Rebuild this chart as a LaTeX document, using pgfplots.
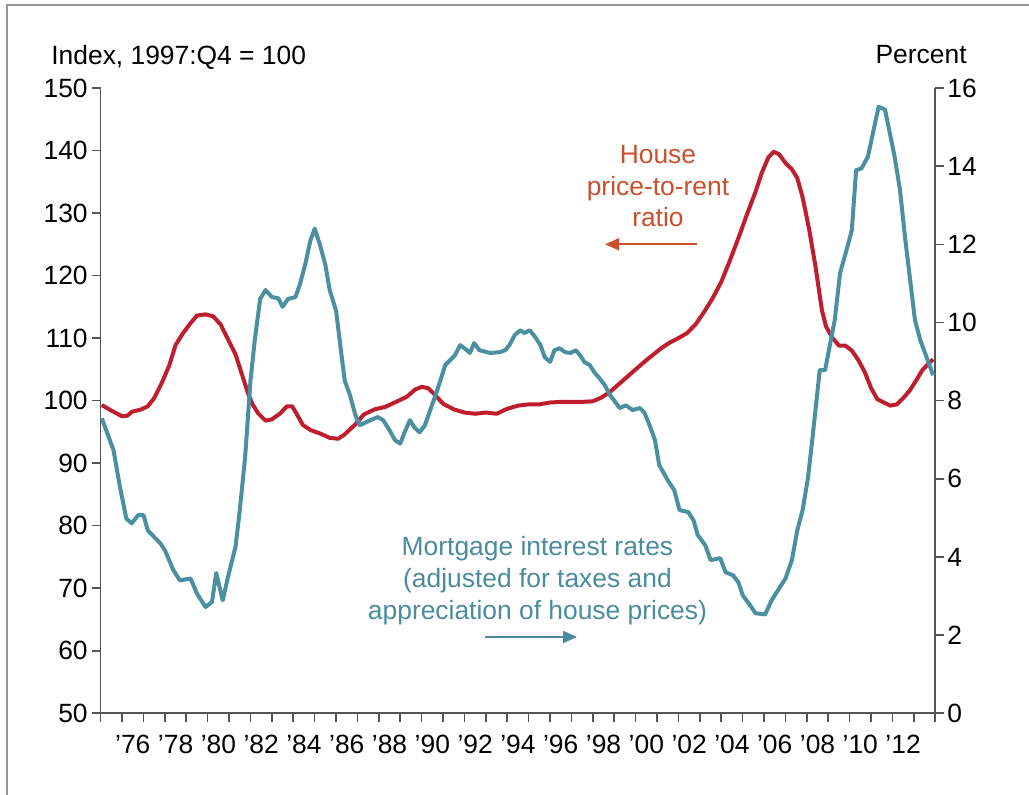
\documentclass[border=0pt]{standalone}
\usepackage{pgfplots}
\pgfplotsset{compat=1.18}
\usepackage{pgfplotstable}
\usepackage{fontspec}
\setmainfont{Liberation Sans}
\usetikzlibrary{arrows.meta}
\definecolor{redline}{RGB}{190,30,45}
\definecolor{tealline}{RGB}{74,144,162}
\definecolor{redtext}{RGB}{200,80,45}
\definecolor{tealtext}{RGB}{72,140,158}
\definecolor{axisgray}{RGB}{85,85,85}
\definecolor{framegray}{RGB}{150,150,150}

\pgfplotstableread{
t v
1975.05 99.3
1975.5 98.4
1976.0 97.5
1976.25 97.6
1976.45 98.2
1976.9 98.6
1977.2 99.1
1977.5 100.4
1977.85 102.8
1978.2 105.6
1978.5 108.9
1978.85 110.8
1979.2 112.4
1979.5 113.6
1979.9 113.8
1980.25 113.5
1980.6 112.2
1980.95 109.8
1981.3 107.4
1981.6 104.2
1981.9 101.0
1982.1 99.4
1982.35 98.0
1982.7 96.8
1983.0 97.0
1983.4 98.0
1983.7 99.1
1983.95 99.1
1984.2 97.6
1984.45 96.1
1984.8 95.3
1985.25 94.75
1985.7 94.05
1986.1 93.9
1986.4 94.6
1986.9 96.2
1987.3 97.8
1987.8 98.6
1988.3 99.0
1988.8 99.8
1989.3 100.6
1989.7 101.8
1990.0 102.2
1990.3 102.0
1990.6 101.0
1991.0 99.5
1991.5 98.6
1992.0 98.1
1992.5 97.9
1993.0 98.1
1993.5 97.9
1994.0 98.7
1994.5 99.2
1995.0 99.4
1995.5 99.4
1996.0 99.7
1996.5 99.8
1997.0 99.8
1997.5 99.8
1998.0 99.9
1998.4 100.5
1998.8 101.4
1999.2 102.6
1999.6 103.8
2000.0 105.0
2000.4 106.2
2000.8 107.3
2001.2 108.4
2001.6 109.3
2002.0 110.0
2002.4 110.8
2002.8 112.2
2003.2 114.2
2003.6 116.4
2004.0 119.0
2004.4 122.4
2004.8 126.0
2005.2 129.8
2005.6 133.4
2005.9 136.5
2006.2 138.9
2006.45 139.8
2006.7 139.4
2007.0 138.0
2007.3 137.0
2007.55 135.6
2007.8 132.5
2008.1 127.5
2008.4 121.5
2008.7 114.5
2008.9 111.8
2009.2 110.0
2009.5 108.8
2009.8 108.8
2010.1 108.0
2010.4 106.5
2010.7 104.6
2011.0 102.0
2011.3 100.2
2011.6 99.7
2011.9 99.2
2012.2 99.4
2012.5 100.4
2012.8 101.6
2013.1 103.2
2013.4 104.9
2013.7 106.0
2013.9 106.6
}\redtable

\pgfplotstableread{
t v
1975.05 7.55
1975.6 6.73
1975.9 5.79
1976.2 4.98
1976.45 4.86
1976.75 5.07
1977.0 5.07
1977.2 4.68
1977.8 4.34
1978.0 4.17
1978.4 3.66
1978.7 3.40
1979.2 3.45
1979.5 3.06
1979.9 2.72
1980.2 2.85
1980.4 3.59
1980.7 2.89
1980.95 3.49
1981.3 4.26
1981.5 5.20
1981.75 6.56
1982.0 8.52
1982.2 9.55
1982.45 10.6
1982.7 10.83
1983.0 10.65
1983.3 10.62
1983.5 10.4
1983.75 10.6
1984.1 10.65
1984.3 10.96
1984.55 11.47
1984.8 12.1
1985.0 12.4
1985.25 11.98
1985.5 11.47
1985.7 10.83
1986.0 10.3
1986.2 9.4
1986.4 8.52
1986.65 8.14
1986.9 7.63
1987.1 7.37
1987.6 7.5
1987.95 7.58
1988.2 7.5
1988.5 7.24
1988.75 6.99
1989.0 6.9
1989.2 7.19
1989.45 7.5
1989.65 7.32
1989.9 7.19
1990.15 7.37
1990.4 7.76
1990.7 8.22
1991.1 8.91
1991.55 9.16
1991.8 9.42
1992.0 9.34
1992.25 9.22
1992.45 9.47
1992.7 9.29
1993.2 9.22
1993.65 9.24
1993.9 9.29
1994.1 9.42
1994.35 9.68
1994.6 9.8
1994.8 9.73
1995.05 9.8
1995.3 9.63
1995.55 9.42
1995.75 9.11
1996.0 8.99
1996.2 9.29
1996.45 9.34
1996.7 9.24
1996.95 9.22
1997.2 9.29
1997.4 9.16
1997.6 8.99
1997.85 8.91
1998.1 8.7
1998.3 8.58
1998.55 8.40
1998.8 8.14
1999.05 7.96
1999.25 7.81
1999.55 7.88
1999.85 7.76
2000.2 7.81
2000.4 7.7
2000.65 7.37
2000.9 6.99
2001.1 6.35
2001.5 5.96
2001.8 5.71
2002.05 5.2
2002.45 5.15
2002.7 4.94
2002.9 4.56
2003.25 4.3
2003.5 3.92
2003.95 3.97
2004.2 3.61
2004.55 3.53
2004.8 3.35
2005.0 3.02
2005.35 2.76
2005.6 2.56
2006.05 2.53
2006.35 2.89
2006.65 3.15
2007.0 3.45
2007.3 3.92
2007.55 4.68
2007.8 5.2
2008.05 6.02
2008.25 6.99
2008.45 8.01
2008.6 8.78
2008.85 8.78
2009.3 10.06
2009.55 11.26
2009.85 11.85
2010.1 12.36
2010.3 13.9
2010.55 13.94
2010.85 14.24
2011.35 15.52
2011.65 15.45
2012.1 14.24
2012.35 13.39
2012.6 12.11
2013.05 10.06
2013.3 9.55
2013.9 8.65
}\tealtable

\begin{document}
\begin{tikzpicture}
\pgfplotsset{
  every axis/.append style={
    scale only axis, width=417.3pt, height=312.65pt,
    xmin=1975, xmax=2014,
    axis line style={axisgray, line width=0.8pt},
    tick style={axisgray, line width=0.8pt},
    tick align=outside,
    major tick length=4.5pt,
    /pgf/number format/assume math mode=true,
    tick label style={font=\fontsize{13.2}{15.8}\selectfont, text=black},
    clip=false,
  }
}
\begin{axis}[
  axis y line*=left, axis x line*=bottom,
  ymin=50, ymax=150, ytick={50,60,...,150},
  yticklabel style={xshift=1.5pt},
  xtick={1975,...,2014},
  x tick label as interval,
  xticklabels={,’76,,’78,,’80,,’82,,’84,,’86,,’88,,’90,,’92,,’94,,’96,,’98,,’00,,’02,,’04,,’06,,’08,,’10,,’12,},
  xticklabel style={yshift=-3pt},
]
\coordinate (O) at (rel axis cs:0,0);
\addplot[redline, line width=2pt, line join=round] table[x=t,y=v] {\redtable};
\node[redtext, align=center, font=\fontsize{13.2}{15.8}\selectfont] at (axis cs:2001.04,134.3) {House\\price-to-rent\\ratio};
\draw[redtext, line width=1pt, -{Triangle[length=7pt,width=6pt]}] (axis cs:2002.87,125.0) -- (axis cs:1998.57,125.0);
\node[tealtext, align=center, font=\fontsize{13.2}{15.8}\selectfont] at (axis cs:1995.41,71.2) {Mortgage interest rates\\(adjusted for taxes and\\appreciation of house prices)};
\draw[tealtext, line width=1pt, -{Triangle[length=7pt,width=6pt]}] (axis cs:1992.96,62.2) -- (axis cs:1997.26,62.2);
\end{axis}
\begin{axis}[
  axis y line*=right, axis x line=none,
  ymin=0, ymax=16, ytick={0,2,...,16},
  yticklabel style={xshift=-2pt},
]
\addplot[tealline, line width=2pt, line join=round] table[x=t,y=v] {\tealtable};
\end{axis}
\node[inner sep=0pt, anchor=base west, font=\fontsize{13.2}{15.8}\selectfont] at ([shift={(-24.85pt,324.15pt)}]O) {Index, 1997:Q4 = 100};
\node[inner sep=0pt, anchor=base east, font=\fontsize{13.2}{15.8}\selectfont] at ([shift={(433.15pt,324.65pt)}]O) {Percent};
\draw[framegray, line width=1pt] ([shift={(-46.85pt,-40.85pt)}]O) -- ([shift={(-46.85pt,354.15pt)}]O) -- ([shift={(464.15pt,354.15pt)}]O);
\pgfresetboundingbox
\path[use as bounding box] ([shift={(-50.35pt,-40.85pt)}]O) rectangle ([shift={(464.15pt,356.65pt)}]O);
\end{tikzpicture}
\end{document}
